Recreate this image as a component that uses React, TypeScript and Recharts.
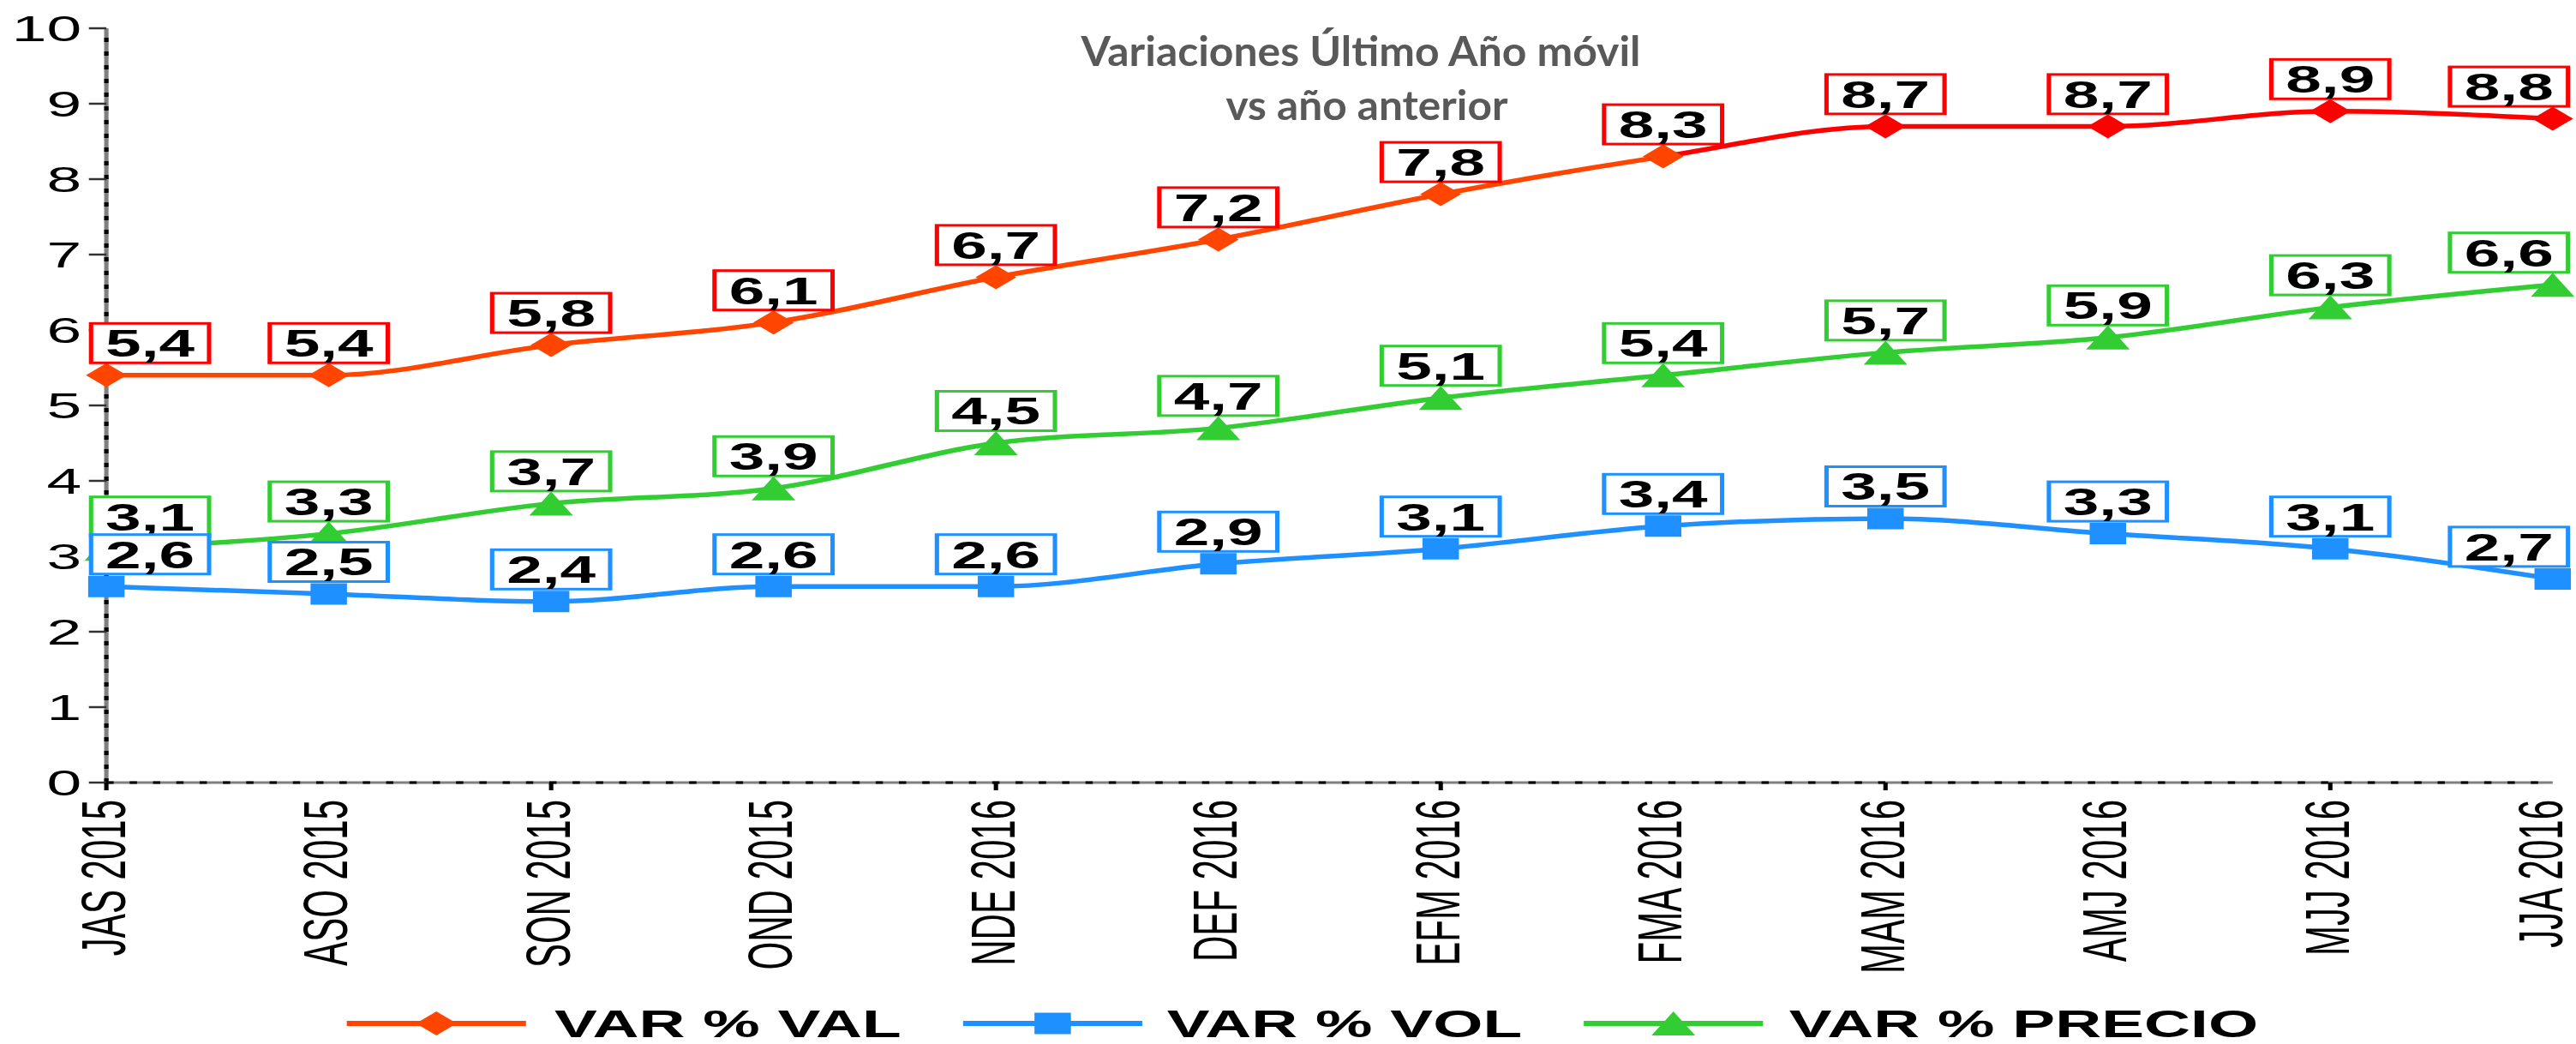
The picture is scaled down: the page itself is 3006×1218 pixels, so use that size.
import React from 'react';
import { LineChart, Line, XAxis, YAxis, ReferenceLine, Legend, LabelList } from 'recharts';

// Moving-quarter periods and year-on-year variations (%)
const periods = [
  'JAS 2015', 'ASO 2015', 'SON 2015', 'OND 2015', 'NDE 2016', 'DEF 2016',
  'EFM 2016', 'FMA 2016', 'MAM 2016', 'AMJ 2016', 'MJJ 2016', 'JJA 2016',
];
const varVal = [5.4, 5.4, 5.8, 6.1, 6.7, 7.2, 7.8, 8.3, 8.7, 8.7, 8.9, 8.8];
const varVol = [2.6, 2.5, 2.4, 2.6, 2.6, 2.9, 3.1, 3.4, 3.5, 3.3, 3.1, 2.7];
const varPrecio = [3.1, 3.3, 3.7, 3.9, 4.5, 4.7, 5.1, 5.4, 5.7, 5.9, 6.3, 6.6];
const yTicks = [0, 1, 2, 3, 4, 5, 6, 7, 8, 9, 10];

const seriesNames = { val: 'VAR % VAL', vol: 'VAR % VOL', precio: 'VAR % PRECIO' };

const data = periods.map((periodo, i) => ({
  periodo,
  val: varVal[i],
  vol: varVol[i],
  precio: varPrecio[i],
}));

// Layout: the chart is laid out narrow and widened horizontally.
const OUT_W = 3006;
const OUT_H = 1218;
const W = 1768;
const H = 1218;
const STRETCH = OUT_W / W;

const ORANGE_RED = '#FF4500';
const RED = '#FF0000';
const BLUE = '#1E90FF';
const GREEN = '#32CD32';
const AXIS_GREY = '#808080';

// From MAM 2016 onwards the VAL series is drawn in pure red
const VAL_RED_FROM = 8;

const FONT = '"Liberation Sans", Arial, Helvetica, sans-serif';

const BOX_OUTER_W = 84;
const BOX_OUTER_H = 49;
const BOX_STROKE = 3;
const BOX_MIN_X = 61;
const BOX_MAX_X = 1764;

const TICK_FONT = 42;
// Keep rotated period labels fully inside the right edge
const TICK_TEXT_MAX_X = W - 0.53 * TICK_FONT;

const fmt = (v: number) => v.toFixed(1).replace('.', ',');

const diamondPath = (cx: number, cy: number) =>
  `M${cx},${cy - 14}L${cx + 14},${cy}L${cx},${cy + 14}L${cx - 14},${cy}Z`;
const squarePath = (cx: number, cy: number) =>
  `M${cx - 12.5},${cy - 12.5}h25v25h-25Z`;
const trianglePath = (cx: number, cy: number) =>
  `M${cx},${cy - 14}L${cx + 15},${cy + 14}L${cx - 15},${cy + 14}Z`;

const ValDot = (props: any) => {
  const { cx, cy, index } = props;
  if (cx == null || cy == null) return <g key={`vd-${index}`} />;
  return (
    <path
      key={`vd-${index}`}
      d={diamondPath(cx, cy)}
      fill={index >= VAL_RED_FROM ? RED : ORANGE_RED}
    />
  );
};

const VolDot = (props: any) => {
  const { cx, cy, index } = props;
  if (cx == null || cy == null) return <g key={`sd-${index}`} />;
  return <path key={`sd-${index}`} d={squarePath(cx, cy)} fill={BLUE} />;
};

const PrecioDot = (props: any) => {
  const { cx, cy, index } = props;
  if (cx == null || cy == null) return <g key={`td-${index}`} />;
  return <path key={`td-${index}`} d={trianglePath(cx, cy)} fill={GREEN} />;
};

// Boxed value label sitting above each point, kept inside the chart edges
const makeBoxLabel = (color: string) => (props: any) => {
  const { x, y, value, index } = props;
  if (x == null || y == null || value == null) return null;
  let left = x - BOX_OUTER_W / 2;
  left = Math.max(BOX_MIN_X, Math.min(left, BOX_MAX_X - BOX_OUTER_W));
  const top = y - 13 - BOX_OUTER_H;
  const half = BOX_STROKE / 2;
  return (
    <g key={`lb-${color}-${index}`}>
      <rect
        x={left + half}
        y={top + half}
        width={BOX_OUTER_W - BOX_STROKE}
        height={BOX_OUTER_H - BOX_STROKE}
        fill="#FFFFFF"
        stroke={color}
        strokeWidth={BOX_STROKE}
      />
      <text
        x={left + BOX_OUTER_W / 2}
        y={top + BOX_OUTER_H / 2}
        dy="0.36em"
        textAnchor="middle"
        fontFamily={FONT}
        fontWeight="bold"
        fontSize={44}
        fill="#000000"
      >
        {fmt(Number(value))}
      </text>
    </g>
  );
};

const PeriodTick = (props: any) => {
  const { x, y, payload, index } = props;
  const tx = Math.min(x, TICK_TEXT_MAX_X);
  return (
    <g>
      {index % 2 === 0 && (
        <line x1={x} x2={x} y1={y} y2={y + 9} stroke="#000000" strokeWidth={3} />
      )}
      <text
        transform={`translate(${tx},${y + 20}) rotate(-90)`}
        textAnchor="end"
        dy="0.3em"
        fontFamily={FONT}
        fontSize={TICK_FONT}
        fill="#000000"
      >
        {payload.value}
      </text>
    </g>
  );
};

const LegendContent = () => {
  const ly = 36;
  const ty = 52;
  const items = [
    { x0: 238, x1: 361, text: 380.6, name: seriesNames.val, color: ORANGE_RED, shape: diamondPath },
    { x0: 661, x1: 784, text: 801, name: seriesNames.vol, color: BLUE, shape: squarePath },
    { x0: 1087, x1: 1210, text: 1228, name: seriesNames.precio, color: GREEN, shape: trianglePath },
  ];
  return (
    <svg width={W} height={60} style={{ display: 'block', overflow: 'visible' }}>
      {items.map((it) => {
        const mid = (it.x0 + it.x1) / 2;
        return (
          <g key={it.name}>
            <line x1={it.x0} x2={it.x1} y1={ly} y2={ly} stroke={it.color} strokeWidth={6} />
            <path d={it.shape(mid, ly)} fill={it.color} />
            <text
              x={it.text}
              y={ty}
              fontFamily={FONT}
              fontWeight="bold"
              fontSize={44}
              fill="#000000"
            >
              {it.name}
            </text>
          </g>
        );
      })}
    </svg>
  );
};

export default function App() {
  const split = 7 / 11;
  return (
    <div
      style={{
        position: 'absolute',
        left: 0,
        top: 0,
        width: OUT_W,
        height: OUT_H,
        background: '#FFFFFF',
        overflow: 'hidden',
      }}
    >
      <svg width={0} height={0} style={{ position: 'absolute' }}>
        <defs>
          <linearGradient id="valStroke" x1="0" y1="0" x2="1" y2="0">
            <stop offset={0} stopColor={ORANGE_RED} />
            <stop offset={split} stopColor={ORANGE_RED} />
            <stop offset={split} stopColor={RED} />
            <stop offset={1} stopColor={RED} />
          </linearGradient>
        </defs>
      </svg>
      <div
        style={{
          width: W,
          height: H,
          transform: `scaleX(${STRETCH})`,
          transformOrigin: '0 0',
        }}
      >
        <LineChart
          width={W}
          height={H}
          data={data}
          margin={{ top: 33, right: 16, left: 0, bottom: 0 }}
        >
          <XAxis
            dataKey="periodo"
            scale="point"
            padding={{ left: 0, right: 0 }}
            interval={0}
            height={245}
            axisLine={false}
            tickLine={false}
            tickSize={0}
            tickMargin={0}
            tick={<PeriodTick />}
          />
          <YAxis
            domain={[0, 10]}
            ticks={yTicks}
            width={73}
            axisLine={false}
            tickSize={12}
            tickMargin={5}
            tickLine={{ stroke: '#333333', strokeWidth: 2.5 }}
            tick={{ fontSize: 43, fill: '#000000', fontFamily: FONT }}
          />
          <ReferenceLine y={0} stroke={AXIS_GREY} strokeWidth={3} />
          <ReferenceLine y={0} stroke="#000000" strokeWidth={3} strokeDasharray="5 11" />
          <ReferenceLine x={periods[0]} stroke={AXIS_GREY} strokeWidth={3} />
          <ReferenceLine x={periods[0]} stroke="#000000" strokeWidth={3} strokeDasharray="5 11" />
          <Legend
            verticalAlign="bottom"
            height={60}
            wrapperStyle={{ left: 0, bottom: 0, width: W, height: 60 }}
            content={<LegendContent />}
          />
          <Line
            type="monotone"
            dataKey="val"
            name={seriesNames.val}
            stroke="url(#valStroke)"
            strokeWidth={5.5}
            dot={<ValDot />}
            activeDot={false}
            isAnimationActive={false}
          >
            <LabelList dataKey="val" content={makeBoxLabel(RED)} />
          </Line>
          <Line
            type="monotone"
            dataKey="precio"
            name={seriesNames.precio}
            stroke={GREEN}
            strokeWidth={5.5}
            dot={<PrecioDot />}
            activeDot={false}
            isAnimationActive={false}
          >
            <LabelList dataKey="precio" content={makeBoxLabel(GREEN)} />
          </Line>
          <Line
            type="monotone"
            dataKey="vol"
            name={seriesNames.vol}
            stroke={BLUE}
            strokeWidth={5.5}
            dot={<VolDot />}
            activeDot={false}
            isAnimationActive={false}
          >
            <LabelList dataKey="vol" content={makeBoxLabel(BLUE)} />
          </Line>
        </LineChart>
      </div>
      <svg
        width={OUT_W}
        height={170}
        style={{ position: 'absolute', left: 0, top: 0, pointerEvents: 'none' }}
      >
        <text
          x={1588}
          y={77}
          textAnchor="middle"
          fontFamily='Lato, "Open Sans", sans-serif'
          fontWeight="bold"
          fontSize={47}
          fill="#595959"
          textLength={653}
          lengthAdjust="spacingAndGlyphs"
        >
          Variaciones Último Año móvil
        </text>
        <text
          x={1595}
          y={140}
          textAnchor="middle"
          fontFamily='Lato, "Open Sans", sans-serif'
          fontWeight="bold"
          fontSize={47}
          fill="#595959"
          textLength={329}
          lengthAdjust="spacingAndGlyphs"
        >
          vs año anterior
        </text>
      </svg>
    </div>
  );
}
